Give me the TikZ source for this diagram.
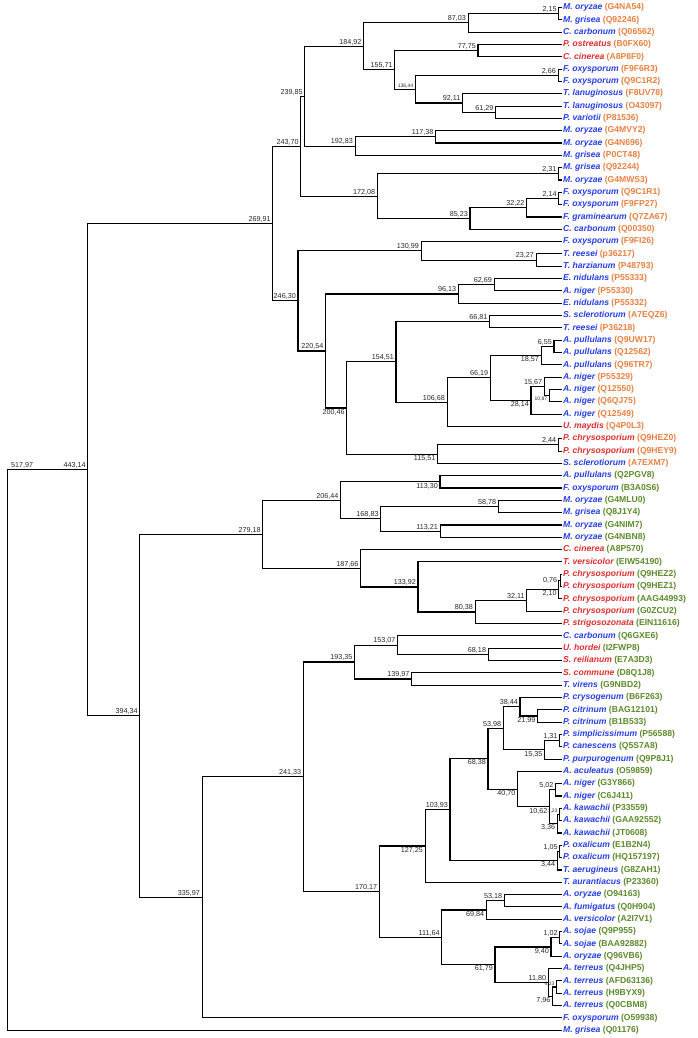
\documentclass[tikz,border=0pt]{standalone}
\usepackage{fontspec}
\setmainfont{Liberation Sans}
\usepackage{tikz}
\usetikzlibrary{arrows,shapes}
\definecolor{ascoblue}{RGB}{38,62,228}
\definecolor{basidred}{RGB}{222,44,44}
\definecolor{idorange}{RGB}{232,128,64}
\definecolor{idgreen}{RGB}{92,138,42}
\definecolor{bvgray}{RGB}{40,40,40}
\newcommand{\leaffont}{\fontsize{8.6}{10}\selectfont\bfseries}
\newcommand{\bvfont}{\fontsize{7.2}{8}\selectfont}
\newcommand{\tinybvfont}{\fontsize{5}{6}\selectfont}
\tikzstyle{leaf}=[anchor=west,inner sep=1pt,font=\leaffont]
\tikzstyle{branch}=[draw,line width=1.1pt,line join=miter]
\tikzstyle{bv}=[inner sep=1pt,text=bvgray,font=\bvfont]
\tikzstyle{bvup}=[bv,anchor=south east,xshift=-1pt]
\tikzstyle{bvdown}=[bv,anchor=north east,xshift=-1pt]
\tikzstyle{bvleft}=[bv,anchor=east,xshift=-2pt]
\tikzstyle{bvright}=[bv,anchor=south west,xshift=2pt]
\tikzstyle{tinyup}=[bvup,font=\tinybvfont]
\tikzstyle{tinydown}=[bvdown,font=\tinybvfont]

\begin{document}
\begin{tikzpicture}[x=1pt,y=-12.32pt]
    \useasboundingbox (0,0.39) rectangle (697,84.64);
    % Leaves, one row each
    \foreach \n/\sp/\acc/\sc in {1/M. oryzae/G4NA54/ascoblue, 2/M. grisea/Q92246/ascoblue,
        3/C. carbonum/Q06562/ascoblue, 4/P. ostreatus/B0FX60/basidred, 5/C. cinerea/A8P8F0/basidred,
        6/F. oxysporum/F9F6R3/ascoblue, 7/F. oxysporum/Q9C1R2/ascoblue, 8/T. lanuginosus/F8UV78/ascoblue,
        9/T. lanuginosus/O43097/ascoblue, 10/P. variotii/P81536/ascoblue, 11/M. oryzae/G4MVY2/ascoblue,
        12/M. oryzae/G4N696/ascoblue, 13/M. grisea/P0CT48/ascoblue, 14/M. grisea/Q92244/ascoblue,
        15/M. oryzae/G4MWS3/ascoblue, 16/F. oxysporum/Q9C1R1/ascoblue, 17/F. oxysporum/F9FP27/ascoblue,
        18/F. graminearum/Q7ZA67/ascoblue, 19/C. carbonum/Q00350/ascoblue, 20/F. oxysporum/F9FI26/ascoblue,
        21/T. reesei/p36217/ascoblue, 22/T. harzianum/P48793/ascoblue, 23/E. nidulans/P55333/ascoblue,
        24/A. niger/P55330/ascoblue, 25/E. nidulans/P55332/ascoblue, 26/S. sclerotiorum/A7EQZ6/ascoblue,
        27/T. reesei/P36218/ascoblue, 28/A. pullulans/Q9UW17/ascoblue, 29/A. pullulans/Q12562/ascoblue,
        30/A. pullulans/Q96TR7/ascoblue, 31/A. niger/P55329/ascoblue, 32/A. niger/Q12550/ascoblue,
        33/A. niger/Q6QJ75/ascoblue, 34/A. niger/Q12549/ascoblue, 35/U. maydis/Q4P0L3/basidred,
        36/P. chrysosporium/Q9HEZ0/basidred, 37/P. chrysosporium/Q9HEY9/basidred,
        38/S. sclerotiorum/A7EXM7/ascoblue}
        \node[leaf] (l\n) at (562,\n) {\textcolor{\sc}{\itshape\sp}\ \textcolor{idorange}{(\acc)}};

    \foreach \n/\sp/\acc/\sc in {39/A. pullulans/Q2PGV8/ascoblue, 40/F. oxysporum/B3A0S6/ascoblue,
        41/M. oryzae/G4MLU0/ascoblue, 42/M. grisea/Q8J1Y4/ascoblue, 43/M. oryzae/G4NIM7/ascoblue,
        44/M. oryzae/G4NBN8/ascoblue, 45/C. cinerea/A8P570/basidred, 46/T. versicolor/EIW54190/basidred,
        47/P. chrysosporium/Q9HEZ2/basidred, 48/P. chrysosporium/Q9HEZ1/basidred,
        49/P. chrysosporium/AAG44993/basidred, 50/P. chrysosporium/G0ZCU2/basidred,
        51/P. strigosozonata/EIN11616/basidred, 52/C. carbonum/Q6GXE6/ascoblue, 53/U. hordei/I2FWP8/basidred,
        54/S. reilianum/E7A3D3/basidred, 55/S. commune/D8Q1J8/basidred, 56/T. virens/G9NBD2/ascoblue,
        57/P. crysogenum/B6F263/ascoblue, 58/P. citrinum/BAG12101/ascoblue, 59/P. citrinum/B1B533/ascoblue,
        60/P. simplicissimum/P56588/ascoblue, 61/P. canescens/Q5S7A8/ascoblue,
        62/P. purpurogenum/Q9P8J1/ascoblue, 63/A. aculeatus/O59859/ascoblue, 64/A. niger/G3Y866/ascoblue,
        65/A. niger/C6J411/ascoblue, 66/A. kawachii/P33559/ascoblue, 67/A. kawachii/GAA92552/ascoblue,
        68/A. kawachii/JT0608/ascoblue, 69/P. oxalicum/E1B2N4/ascoblue, 70/P. oxalicum/HQ157197/ascoblue,
        71/T. aerugineus/G8ZAH1/ascoblue, 72/T. aurantiacus/P23360/ascoblue, 73/A. oryzae/O94163/ascoblue,
        74/A. fumigatus/Q0H904/ascoblue, 75/A. versicolor/A2I7V1/ascoblue, 76/A. sojae/Q9P955/ascoblue,
        77/A. sojae/BAA92882/ascoblue, 78/A. oryzae/Q96VB6/ascoblue, 79/A. terreus/Q4JHP5/ascoblue,
        80/A. terreus/AFD63136/ascoblue, 81/A. terreus/H9BYX9/ascoblue, 82/A. terreus/Q0CBM8/ascoblue,
        83/F. oxysporum/O59938/ascoblue, 84/M. grisea/Q01176/ascoblue}
        \node[leaf] (l\n) at (562,\n) {\textcolor{\sc}{\itshape\sp}\ \textcolor{idgreen}{(\acc)}};

    % Inner nodes: x from the node value, y halfway between the two children
    \foreach \name/\vi/\vf/\y/\pl in {n215/2/15/1.5/bvup, J/87/03/2.25/bvup, L/77/75/4.5/bvup,
        n266/2/66/6.5/bvup, n6129/61/29/9.5/bvup, N/92/11/8.75/bvup, M/136/44/7.625/tinyup,
        K/155/71/6.0625/bvup, H/184/92/4.156/bvup, n11738/117/38/11.5/bvup, I/192/83/12.25/bvup,
        F/239/85/8.203/bvup, n231/2/31/14.5/bvup, n214/2/14/16.5/bvup, n3222/32/22/17.25/bvup,
        n8523/85/23/18.125/bvup, G/172/08/16.3125/bvup, D/243/70/12.258/bvup, n2327/23/27/21.5/bvup,
        n13099/130/99/20.75/bvup, n6269/62/69/23.5/bvup, n9613/96/13/24.25/bvup, n6681/66/81/26.5/bvup,
        n655/6/55/28.5/bvup, n1857/18/57/29.25/bvdown, n1087/10/87/32.5/tinydown, n1567/15/67/31.75/bvup,
        n2814/28/14/32.875/bvdown, n6619/66/19/31.0625/bvup, n10668/106/68/33.03/bvup,
        n15451/154/51/29.766/bvup, n244/2/44/36.5/bvup, n11551/115/51/37.25/bvdown,
        n20046/200/46/33.508/bvdown, n22054/220/54/28.879/bvup, E/246/30/24.81/bvup, B/269/91/18.53/bvup,
        n11330/113/30/39.5/bvdown, n5878/58/78/41.5/bvup, n11321/113/21/43.5/bvup, n16883/168/83/42.5/bvup,
        n20644/206/44/41/bvup, n076/0/76/47.5/bvleft, n210/2/10/48.25/bvdown, n3211/32/11/49.125/bvup,
        n8038/80/38/50.06/bvup, n13392/133/92/48.03/bvup, n18766/187/66/46.516/bvup, P/279/18/43.758/bvup,
        n6818/68/18/53.5/bvup, n15307/153/07/52.75/bvup, n13997/139/97/55.5/bvup, n19335/193/35/54.125/bvup,
        n2199/21/99/58.5/bvdown, n3844/38/44/57.75/bvup, n131/1/31/60.5/bvup, n1535/15/35/61.25/bvdown,
        n5398/53/98/59.5/bvup, n502/5/02/64.5/bvup, n123/1/23/66.5/tinyup, n336/3/36/67.25/bvdown,
        n1062/10/62/65.875/bvdown, n4070/40/70/64.44/bvdown, n6838/68/38/61.97/bvdown, n105/1/05/69.5/bvup,
        n344/3/44/70.25/bvdown, n10393/103/93/66.11/bvup, n12725/127/25/69.055/bvdown,
        n5318/53/18/73.5/bvup, n6984/69/84/74.25/bvdown, n102/1/02/76.5/bvup, n940/9/40/77.25/bvdown,
        n423/4/23/80.5/tinyup, n796/7/96/81.25/bvdown, n1180/11/80/80.125/bvup, n6179/61/79/78.69/bvdown,
        n11164/111/64/76.47/bvup, n17017/170/17/72.76/bvup, R/241/33/63.44/bvup, Q/335/97/73.22/bvup,
        C/394/34/58.49/bvup, A/443/14/38.51/bvup}
    {
        \coordinate (\name) at ({561-1.068*\vi.\vf},\y);
        \node[\pl] (t\name) at (\name) {\vi,\vf};
    }
    % the root
    \coordinate (root) at ({561-1.068*517.97},61.25);
    \node[bvright] (troot) at (root |- A) {517,97};

    % Connect every inner node with its two children
    \foreach \p/\a/\b in {n215/l1.west/l2.west, J/n215/l3.west, L/l4.west/l5.west,
        n266/l6.west/l7.west, n6129/l9.west/l10.west, N/l8.west/n6129, M/n266/N, K/L/M, H/J/K,
        n11738/l11.west/l12.west, I/n11738/l13.west, F/H/I, n231/l14.west/l15.west,
        n214/l16.west/l17.west, n3222/n214/l18.west, n8523/n3222/l19.west, G/n231/n8523, D/F/G,
        n2327/l21.west/l22.west, n13099/l20.west/n2327, n6269/l23.west/l24.west, n9613/n6269/l25.west,
        n6681/l26.west/l27.west, n655/l28.west/l29.west, n1857/n655/l30.west, n1087/l32.west/l33.west,
        n1567/l31.west/n1087, n2814/n1567/l34.west, n6619/n1857/n2814, n10668/n6619/l35.west,
        n15451/n6681/n10668, n244/l36.west/l37.west, n11551/n244/l38.west, n20046/n15451/n11551,
        n22054/n9613/n20046, E/n13099/n22054, B/D/E,
        n11330/l39.west/l40.west, n5878/l41.west/l42.west, n11321/l43.west/l44.west,
        n16883/n5878/n11321, n20644/n11330/n16883, n076/l47.west/l48.west, n210/n076/l49.west,
        n3211/n210/l50.west, n8038/n3211/l51.west, n13392/l46.west/n8038, n18766/l45.west/n13392,
        P/n20644/n18766,
        n6818/l53.west/l54.west, n15307/l52.west/n6818, n13997/l55.west/l56.west, n19335/n15307/n13997,
        n2199/l58.west/l59.west, n3844/l57.west/n2199, n131/l60.west/l61.west, n1535/n131/l62.west,
        n5398/n3844/n1535, n502/l64.west/l65.west, n123/l66.west/l67.west, n336/n123/l68.west,
        n1062/n502/n336, n4070/l63.west/n1062, n6838/n5398/n4070, n105/l69.west/l70.west,
        n344/n105/l71.west, n10393/n6838/n344, n12725/n10393/l72.west, n5318/l73.west/l74.west,
        n6984/n5318/l75.west, n102/l76.west/l77.west, n940/n102/l78.west, n423/l80.west/l81.west,
        n796/n423/l82.west, n1180/l79.west/n796, n6179/n940/n1180, n11164/n6984/n6179,
        n17017/n12725/n11164, R/n19335/n17017, Q/R/l83.west, C/P/Q, A/B/C, root/A/l84.west}
        \path[branch] (\a) -| (\p) |- (\b);
\end{tikzpicture}
\end{document}
